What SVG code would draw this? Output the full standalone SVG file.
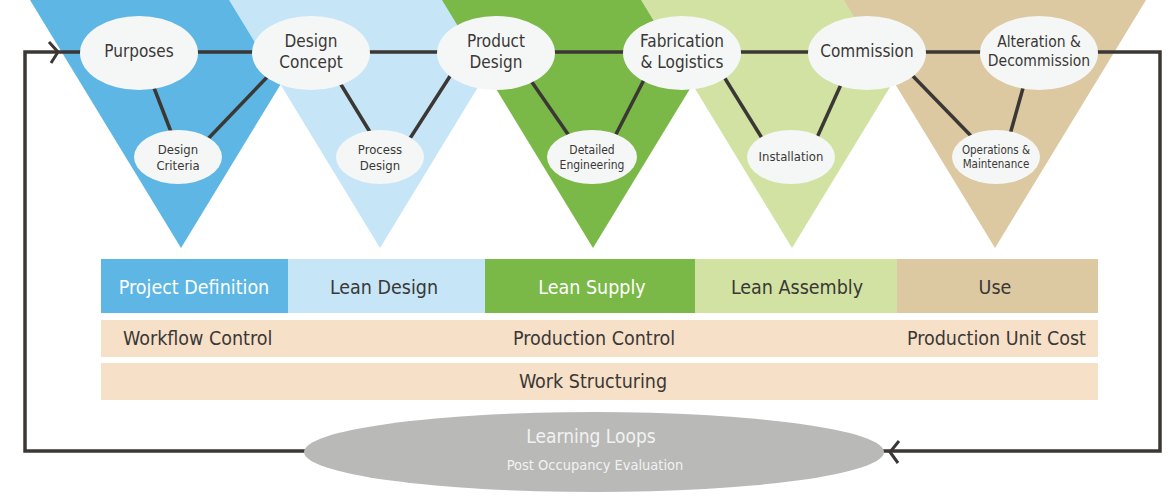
<svg xmlns="http://www.w3.org/2000/svg" width="1175" height="500" viewBox="0 0 1175 500">
<style>
text{font-family:"DejaVu Sans Condensed","DejaVu Sans",sans-serif;font-stretch:condensed;fill:#3a3836;text-anchor:middle}
.big{font-size:17px}
.mid{font-size:15.5px}
.sm{font-size:13px}
.xs{font-size:12px}
.xxs{font-size:11.5px}
.bar{font-size:19.5px}
.w{fill:#ffffff}
.node{fill:#f5f7f6}
.ln{stroke:#3b3734;stroke-width:3.5;fill:none}
.chev{stroke:#3b3734;stroke-width:3;fill:none}
</style>
<g id="triangles">
<polygon points="30,0 332,0 181,248" fill="#5db6e3"/>
<polygon points="229,0 531,0 380,248" fill="#c6e6f7"/>
<polygon points="442,0 744,0 593,248" fill="#7ab847"/>
<polygon points="641,0 943,0 792,248" fill="#d2e2a2"/>
<polygon points="844,0 1146,0 995,248" fill="#dcc9a1"/>
</g>
<g id="bars">
<rect x="101" y="259" width="187" height="54" fill="#5db6e3"/>
<rect x="288" y="259" width="197" height="54" fill="#c6e6f7"/>
<rect x="485" y="259" width="210" height="54" fill="#7ab847"/>
<rect x="695" y="259" width="202" height="54" fill="#d2e2a2"/>
<rect x="897" y="259" width="201" height="54" fill="#dcc9a1"/>
<rect x="101" y="320" width="997" height="37" fill="#f7e0c8"/>
<rect x="101" y="363" width="997" height="37" fill="#f7e0c8"/>
<text class="bar w" x="194" y="294">Project Definition</text>
<text class="bar" x="384" y="294">Lean Design</text>
<text class="bar w" x="592" y="294">Lean Supply</text>
<text class="bar" x="797" y="294">Lean Assembly</text>
<text class="bar" x="995" y="294">Use</text>
<text class="bar" x="123" y="345" style="text-anchor:start">Workflow Control</text>
<text class="bar" x="594" y="345">Production Control</text>
<text class="bar" x="1086" y="345" style="text-anchor:end">Production Unit Cost</text>
<text class="bar" x="593" y="388">Work Structuring</text>
</g>
<g id="connectors">
<path class="ln" d="M25,52 H1160 V451 H25 Z"/>
<polyline class="chev" points="49,42 58,52 51,63"/>
<polyline class="chev" points="899,441 890,452 898,463"/>
<line class="ln" x1="151" y1="80" x2="173" y2="137"/>
<line class="ln" x1="272" y1="72" x2="204" y2="143"/>
<line class="ln" x1="337" y1="78" x2="373" y2="137"/>
<line class="ln" x1="454" y1="70" x2="407" y2="143"/>
<line class="ln" x1="527" y1="75" x2="572" y2="140"/>
<line class="ln" x1="647" y1="74" x2="613" y2="140"/>
<line class="ln" x1="721" y1="72" x2="765" y2="143"/>
<line class="ln" x1="843" y1="80" x2="815" y2="142"/>
<line class="ln" x1="908" y1="71" x2="975" y2="140"/>
<line class="ln" x1="1025" y1="81" x2="1009" y2="138"/>
</g>
<g id="purposes"><ellipse class="node" cx="139" cy="53" rx="59" ry="37"/><text class="big" x="139" y="57">Purposes</text></g>
<g id="design-concept"><ellipse class="node" cx="311" cy="53" rx="59" ry="37"/><text class="big" x="311" y="47">Design</text><text class="big" x="311" y="68">Concept</text></g>
<g id="product-design"><ellipse class="node" cx="496" cy="53" rx="59" ry="37"/><text class="big" x="496" y="47">Product</text><text class="big" x="496" y="68">Design</text></g>
<g id="fabrication"><ellipse class="node" cx="682" cy="53" rx="59" ry="37"/><text class="big" x="682" y="47">Fabrication</text><text class="big" x="682" y="68">&amp; Logistics</text></g>
<g id="commission"><ellipse class="node" cx="867" cy="53" rx="59" ry="37"/><text class="big" x="867" y="57">Commission</text></g>
<g id="alteration"><ellipse class="node" cx="1039" cy="53" rx="59" ry="37"/><text class="mid" x="1039" y="47">Alteration &amp;</text><text class="mid" x="1039" y="66">Decommission</text></g>
<g id="design-criteria"><ellipse class="node" cx="178" cy="157" rx="44" ry="27"/><text class="sm" x="178" y="154">Design</text><text class="sm" x="178" y="170">Criteria</text></g>
<g id="process-design"><ellipse class="node" cx="380" cy="157" rx="44" ry="27"/><text class="sm" x="380" y="154">Process</text><text class="sm" x="380" y="170">Design</text></g>
<g id="detailed-engineering"><ellipse class="node" cx="592" cy="157" rx="45" ry="27"/><text class="xs" x="592" y="154">Detailed</text><text class="xs" x="592" y="169">Engineering</text></g>
<g id="installation"><ellipse class="node" cx="791" cy="157" rx="44" ry="27"/><text class="sm" x="791" y="161">Installation</text></g>
<g id="operations"><ellipse class="node" cx="996" cy="157" rx="44" ry="27"/><text class="xxs" x="996" y="154">Operations &amp;</text><text class="xxs" x="996" y="168">Maintenance</text></g>
<g id="learning-loops"><ellipse cx="594" cy="452" rx="290" ry="40" fill="#b9b9b8"/><text x="591" y="443" style="fill:#f2f2f2;font-size:19px">Learning Loops</text><text x="595" y="470" style="fill:#f2f2f2;font-size:14.5px">Post Occupancy Evaluation</text></g>
</svg>
